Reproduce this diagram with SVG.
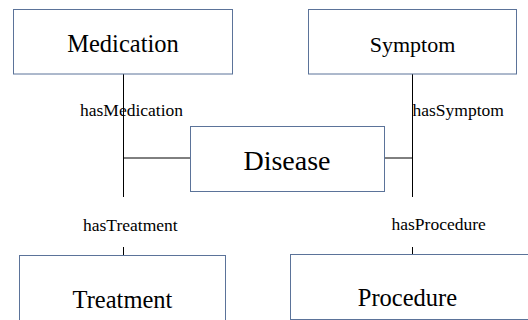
<svg xmlns="http://www.w3.org/2000/svg" width="528" height="320" viewBox="0 0 528 320">
  <style>
    .box { fill: #ffffff; stroke: #5b7399; stroke-width: 1; }
    .name { font-family: "Liberation Serif", "Times New Roman", serif; fill: #000000; text-anchor: middle; }
    .rel { font-family: "Liberation Serif", "Times New Roman", serif; font-size: 17.5px; fill: #000000; }
    .link { fill: none; stroke: #000000; stroke-width: 1; }
  </style>
  <rect width="528" height="320" fill="#ffffff"/>

  <g id="connectors">
    <!-- left trunk: Medication / Treatment -->
    <path class="link" d="M123.5 74 V197 M123.5 247 V255 M123.5 158 H190.5"/>
    <!-- right trunk: Symptom / Procedure -->
    <path class="link" d="M412.5 74 V197 M412.5 247 V254 M384.5 158 H412.5"/>
    <text class="rel" x="80" y="116">hasMedication</text>
    <text class="rel" x="412.5" y="116">hasSymptom</text>
    <text class="rel" x="83" y="231">hasTreatment</text>
    <text class="rel" x="391.5" y="230">hasProcedure</text>
  </g>

  <g id="medication">
    <rect class="box" x="13.5" y="9.5" width="219" height="64.5"/>
    <text class="name" x="123" y="52" font-size="24.5">Medication</text>
  </g>

  <g id="symptom">
    <rect class="box" x="308.5" y="9.5" width="208" height="64.5"/>
    <text class="name" x="412.5" y="52" font-size="22">Symptom</text>
  </g>

  <g id="disease">
    <rect class="box" x="190.5" y="126.5" width="194" height="65"/>
    <text class="name" x="287" y="170" font-size="28">Disease</text>
  </g>

  <g id="treatment">
    <rect class="box" x="19.5" y="255.5" width="206" height="70"/>
    <text class="name" x="122.5" y="308" font-size="24.5">Treatment</text>
  </g>

  <g id="procedure">
    <rect class="box" x="290.5" y="254.5" width="240" height="65"/>
    <text class="name" x="407.5" y="306" font-size="24.5">Procedure</text>
  </g>
</svg>
